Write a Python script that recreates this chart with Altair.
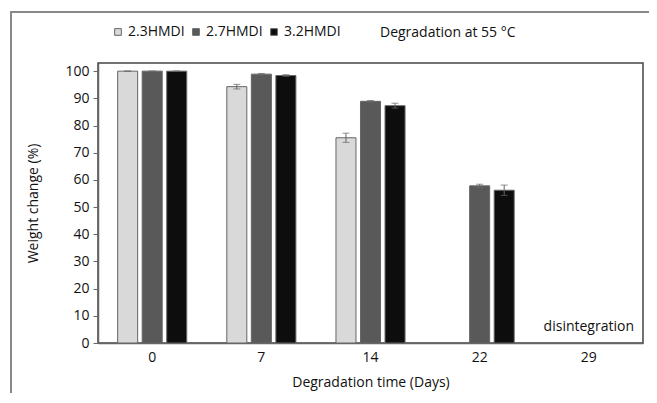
import altair as alt
import pandas as pd

days = ["0", "7", "14", "22", "29"]
series = ["2.3HMDI", "2.7HMDI", "3.2HMDI"]
s23 = [100.0, 94.3, 75.5, None, None]
s27 = [100.0, 98.9, 88.9, 57.8, None]
s32 = [100.0, 98.4, 87.3, 56.2, None]
e23 = [0.0, 0.85, 1.7, None, None]
e27 = [0.0, 0.25, 0.3, 0.6, None]
e32 = [0.0, 0.3, 0.9, 1.9, None]
colors = ["#d9d9d9", "#595959", "#0d0d0d"]

rows = []
for s, vals, errs in zip(series, [s23, s27, s32], [e23, e27, e32]):
    for d, v, e in zip(days, vals, errs):
        if v is not None:
            rows.append({"Day": d, "Series": s, "Value": v, "Low": v - e, "High": v + e})
df = pd.DataFrame(rows)

font = "Open Sans"
fs = 14
xscale = alt.Scale(domain=days, paddingInner=0.367, paddingOuter=0.18)
xaxis = alt.Axis(title="Degradation time (Days)", labelAngle=0, ticks=False,
                 labelPadding=7, titlePadding=11, domainColor="#666",
                 domainWidth=1.5, labelFont=font, titleFont=font,
                 labelFontSize=fs, titleFontSize=fs, labelColor="#111",
                 titleColor="#111", titleFontWeight="normal")
yaxis = alt.Axis(title="Weight change (%)", values=list(range(0, 101, 10)),
                 labelOverlap=False, grid=False, tickSize=5, tickColor="#666",
                 domainColor="#666", domainWidth=1.5, labelPadding=4,
                 titlePadding=24, labelFont=font, titleFont=font,
                 labelFontSize=fs, titleFontSize=fs, labelColor="#111",
                 titleColor="#111", titleFontWeight="normal")
xenc = alt.X("Day:N", sort=days, scale=xscale, axis=xaxis)
xoff = alt.XOffset("Series:N", sort=series,
                   scale=alt.Scale(domain=series, paddingInner=0.184, paddingOuter=0))
yscale = alt.Scale(domain=[0, 103], nice=False)

def yq(field):
    return alt.Y(field, type="quantitative", scale=yscale, axis=yaxis, title="Weight change (%)")

base = alt.Chart(df)

bars = base.mark_bar(stroke="#666", strokeWidth=1).encode(
    x=xenc,
    xOffset=xoff,
    y=yq("Value"),
    color=alt.Color("Series:N", sort=series,
                    scale=alt.Scale(domain=series, range=colors),
                    legend=alt.Legend(title=None, orient="none", direction="horizontal",
                                      legendX=13, legendY=-38, symbolType="square",
                                      symbolSize=45, symbolStrokeColor="#666",
                                      symbolStrokeWidth=1, labelFontSize=fs, labelOffset=3,
                                      labelFont=font, columnPadding=4, labelColor="#111")),
)

err = base.mark_rule(color="#666", strokeWidth=1).encode(
    x=xenc, xOffset=xoff, y=yq("Low"), y2="High:Q")
cap_lo = base.mark_tick(color="#666", thickness=1, size=7).encode(
    x=xenc, xOffset=xoff, y=yq("Low"))
cap_hi = base.mark_tick(color="#666", thickness=1, size=7).encode(
    x=xenc, xOffset=xoff, y=yq("High"))

note = alt.Chart(pd.DataFrame({"Day": ["29"], "Value": [5.9], "t": ["disintegration"]})).mark_text(
    font=font, fontSize=fs, color="#111", baseline="middle").encode(
    x=xenc, y=yq("Value"), text="t:N")

title_txt = alt.Chart(pd.DataFrame({"t": ["Degradation at 55 °C"]})).mark_text(
    font=font, fontSize=fs, color="#111", align="left", baseline="middle").encode(
    x=alt.value(282), y=alt.value(-30), text="t:N")

frame = alt.Chart(pd.DataFrame({"a": [0]})).mark_rect(
    fill=None, fillOpacity=0, stroke="#888", strokeWidth=2, clip=False).encode(
    x=alt.value(-87), x2=alt.value(700), y=alt.value(-51), y2=alt.value(420))

chart = alt.layer(frame, bars, err, cap_lo, cap_hi, note, title_txt).properties(
    width=545, height=280,
    autosize=alt.AutoSizeParams(type="none"),
    padding={"left": 90, "top": 55, "right": 6, "bottom": 50},
).configure_view(stroke="#444", strokeWidth=1.5)

chart.save("out.html", embed_options={"renderer": "svg", "actions": False})
